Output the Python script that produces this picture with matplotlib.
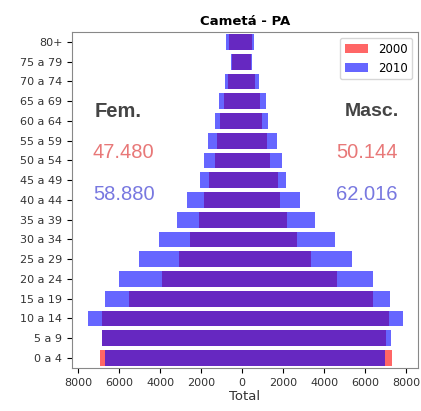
import matplotlib
matplotlib.use("Agg")
import matplotlib.pyplot as plt
from matplotlib.ticker import FuncFormatter

ages = ["0 a 4", "5 a 9", "10 a 14", "15 a 19", "20 a 24", "25 a 29", "30 a 34",
        "35 a 39", "40 a 44", "45 a 49", "50 a 54", "55 a 59", "60 a 64",
        "65 a 69", "70 a 74", "75 a 79", "80+"]

fem_2000 = [6950, 6850, 6830, 5500, 3920, 3070, 2520, 2095, 1870, 1620, 1335,
            1215, 1100, 880, 700, 480, 650]
masc_2000 = [7320, 7040, 7140, 6390, 4650, 3350, 2655, 2190, 1830, 1750, 1350,
             1195, 950, 860, 620, 420, 480]
fem_2010 = [6700, 6830, 7510, 6700, 6000, 5030, 4050, 3200, 2670, 2050, 1870,
            1690, 1335, 1120, 840, 555, 790]
masc_2010 = [6950, 7280, 7850, 7220, 6360, 5360, 4520, 3545, 2815, 2160, 1925,
             1710, 1275, 1155, 800, 500, 570]

tot_txt = {"fem_2000": "47.480", "masc_2000": "50.144",
           "fem_2010": "58.880", "masc_2010": "62.016"}

fig = plt.figure(figsize=(4.21, 4.11), dpi=100)
ax = fig.add_axes([0.171, 0.105, 0.822, 0.817])

y = list(range(len(ages)))
ax.barh(y, [-v for v in fem_2000], height=0.8, color="red", alpha=0.6, label="2000")
ax.barh(y, masc_2000, height=0.8, color="red", alpha=0.6)
ax.barh(y, [-v for v in fem_2010], height=0.8, color="blue", alpha=0.6, label="2010")
ax.barh(y, masc_2010, height=0.8, color="blue", alpha=0.6)

ax.set_yticks(y)
ax.set_yticklabels(ages, fontsize=8, color="#333333")
ax.set_ylim(-0.5, len(ages) - 0.5)
ax.set_xlim(-8300, 8580)
ax.set_xticks(range(-8000, 8001, 2000))
ax.xaxis.set_major_formatter(FuncFormatter(lambda v, p: f"{abs(int(v))}"))
ax.tick_params(axis="x", labelsize=8, labelcolor="#333333")
ax.set_xlabel("Total", fontsize=9.5, color="#333333", labelpad=2)
ax.set_title("Cametá - PA", fontsize=9.5, fontweight="bold", pad=5)
for sp in ax.spines.values():
    sp.set_color("#888888")

fnt = ["Liberation Sans", "DejaVu Sans"]
ax.text(0.066, 0.762, "Fem.", transform=ax.transAxes, fontsize=14.5, fontweight="bold",
        color="#444444", va="center", ha="left", family=fnt)
ax.text(0.945, 0.762, "Masc.", transform=ax.transAxes, fontsize=14, fontweight="bold",
        color="#444444", va="center", ha="right", family=fnt)
ax.text(0.06, 0.64, tot_txt["fem_2000"], transform=ax.transAxes, fontsize=14.5,
        color="#e87878", va="center", ha="left", family=fnt)
ax.text(0.942, 0.64, tot_txt["masc_2000"], transform=ax.transAxes, fontsize=14.5,
        color="#e87878", va="center", ha="right", family=fnt)
ax.text(0.06, 0.515, tot_txt["fem_2010"], transform=ax.transAxes, fontsize=14.5,
        color="#7878e0", va="center", ha="left", family=fnt)
ax.text(0.942, 0.515, tot_txt["masc_2010"], transform=ax.transAxes, fontsize=14.5,
        color="#7878e0", va="center", ha="right", family=fnt)

ax.legend(loc="upper right", fontsize=8.5)

fig.savefig("out.png", dpi=100)
